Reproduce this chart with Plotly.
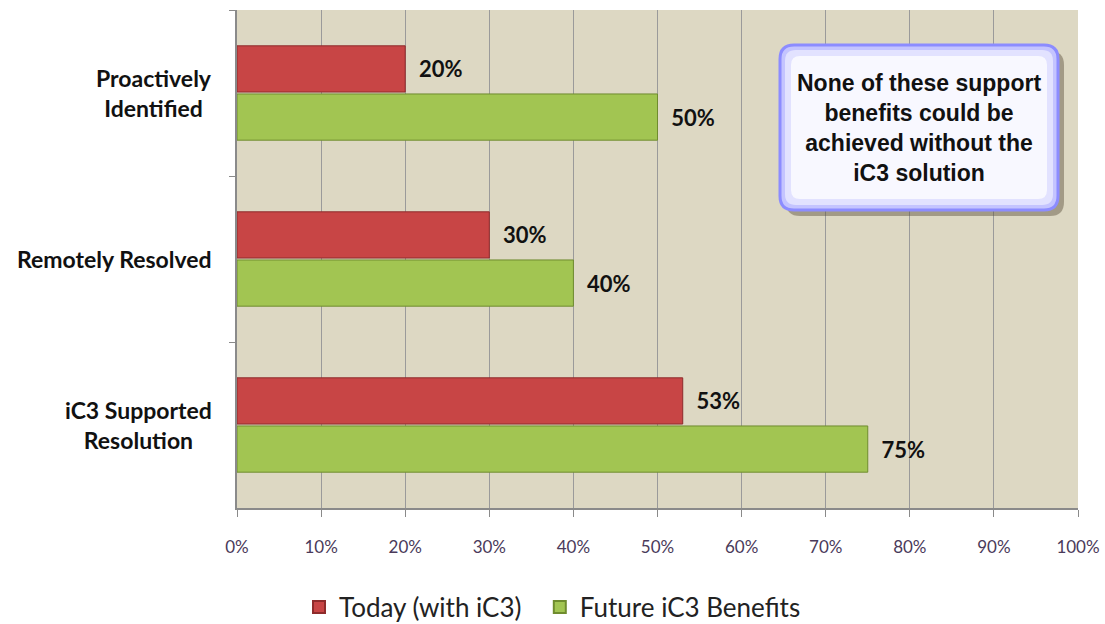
import plotly.graph_objects as go

categories = ["Proactively Identified", "Remotely Resolved", "iC3 Supported Resolution"]
category_labels = ["Proactively<br>Identified", "Remotely Resolved", "iC3 Supported<br>Resolution"]
today = [20, 30, 53]
future = [50, 40, 75]
series_names = ["Today (with iC3)", "Future iC3 Benefits"]
x_ticks = [0, 10, 20, 30, 40, 50, 60, 70, 80, 90, 100]
note_text = "None of these support<br>benefits could be<br>achieved without the<br>iC3 solution"

W, H = 1105, 624
L, R, T, B = 237, 27, 10, 116
LABEL_FONT = "Liberation Sans Narrow, Lato"

fig = go.Figure()
fig.add_trace(go.Bar(
    y=categories, x=today, orientation="h", name=series_names[0] + "\u00a0\u00a0",
    marker=dict(color="#C84545", line=dict(color="#8E2B2B", width=1)),
    text=[f"<b>\u00a0\u00a0{v}%</b>" for v in today], textposition="outside",
    textfont=dict(family=LABEL_FONT, size=22, color="#111111"),
    cliponaxis=False,
))
fig.add_trace(go.Bar(
    y=categories, x=future, orientation="h", name=series_names[1],
    marker=dict(color="#A2C552", line=dict(color="#6F8C2E", width=1)),
    text=[f"<b>\u00a0\u00a0{v}%</b>" for v in future], textposition="outside",
    textfont=dict(family=LABEL_FONT, size=22, color="#111111"),
    cliponaxis=False,
))

annotations = []
for c, lab in zip(categories, category_labels):
    annotations.append(dict(
        x=-23 / (W - L - R), xref="paper", y=c, yref="y",
        text=f"<b>{lab}</b>", showarrow=False, xanchor="right", yanchor="middle",
        align="center", font=dict(family="Lato", size=23, color="#111111"),
    ))

pw = W - L - R
ph = H - T - B


def rounded(x0px, y0px, x1px, y1px, r):
    bx0, bx1 = (x0px - L) / pw, (x1px - L) / pw
    by0, by1 = 1 - (y1px - T) / ph, 1 - (y0px - T) / ph
    rx, ry = r / pw, r / ph
    return (f"M {bx0+rx},{by1} L {bx1-rx},{by1} Q {bx1},{by1} {bx1},{by1-ry} "
            f"L {bx1},{by0+ry} Q {bx1},{by0} {bx1-rx},{by0} L {bx0+rx},{by0} "
            f"Q {bx0},{by0} {bx0},{by0+ry} L {bx0},{by1-ry} Q {bx0},{by1} {bx0+rx},{by1} Z")


X0, Y0, X1, Y1 = 780, 45, 1058, 210
shapes = [
    dict(type="path", path=rounded(X0 + 6, Y0 + 6, X1 + 6, Y1 + 6, 14), xref="paper", yref="paper",
         fillcolor="rgba(90,80,60,0.45)", line=dict(width=0), layer="above"),
    dict(type="path", path=rounded(X0, Y0, X1, Y1, 14), xref="paper", yref="paper",
         fillcolor="#C4C4FF", line=dict(color="#8C8CFF", width=3), layer="above"),
    dict(type="path", path=rounded(X0 + 5, Y0 + 5, X1 - 5, Y1 - 5, 11), xref="paper", yref="paper",
         fillcolor="#E2E2FF", line=dict(width=0), layer="above"),
    dict(type="path", path=rounded(X0 + 11, Y0 + 11, X1 - 11, Y1 - 11, 9), xref="paper", yref="paper",
         fillcolor="#F8F8FF", line=dict(width=0), layer="above"),
]
annotations.append(dict(
    x=((X0 + X1) / 2 - L) / pw, y=1 - (((Y0 + Y1) / 2) - T) / ph, xref="paper", yref="paper",
    xanchor="center", yanchor="middle",
    text=f"<b>{note_text}</b>", showarrow=False, align="center",
    font=dict(family="Liberation Sans", size=23, color="#111111"),
))

fig.update_layout(
    width=W, height=H,
    margin=dict(l=L, r=R, t=T, b=B, pad=0, autoexpand=False),
    paper_bgcolor="white", plot_bgcolor="#DDD8C3",
    barmode="group", bargap=0.42, bargroupgap=0.04,
    showlegend=True,
    legend=dict(orientation="h", x=0.5, xref="container", xanchor="center",
                y=(H - 607) / H, yref="container", yanchor="middle",
                font=dict(family="Lato", size=26, color="#222222"),
                itemsizing="constant", traceorder="normal", itemwidth=30),
    shapes=shapes, annotations=annotations,
    xaxis=dict(range=[0, 100], tickvals=x_ticks, ticktext=[f"{v}%" for v in x_ticks],
               showgrid=True, gridcolor="#9A9A9A", gridwidth=1,
               showline=True, linecolor="#8A8A8A", linewidth=1.5,
               ticks="outside", ticklen=7, tickcolor="#8A8A8A",
               tickfont=dict(family="Lato", size=17, color="#4A3A5A"),
               ticklabelstandoff=16, tickangle=0, zeroline=False, fixedrange=True,
               automargin=False),
    yaxis=dict(autorange="reversed", showticklabels=False,
               showline=True, linecolor="#8A8A8A", linewidth=1.5,
               ticks="outside", ticklen=6, tickcolor="#8A8A8A", tickson="boundaries",
               showgrid=False, fixedrange=True, automargin=False),
)

fig.write_html("out.html")
